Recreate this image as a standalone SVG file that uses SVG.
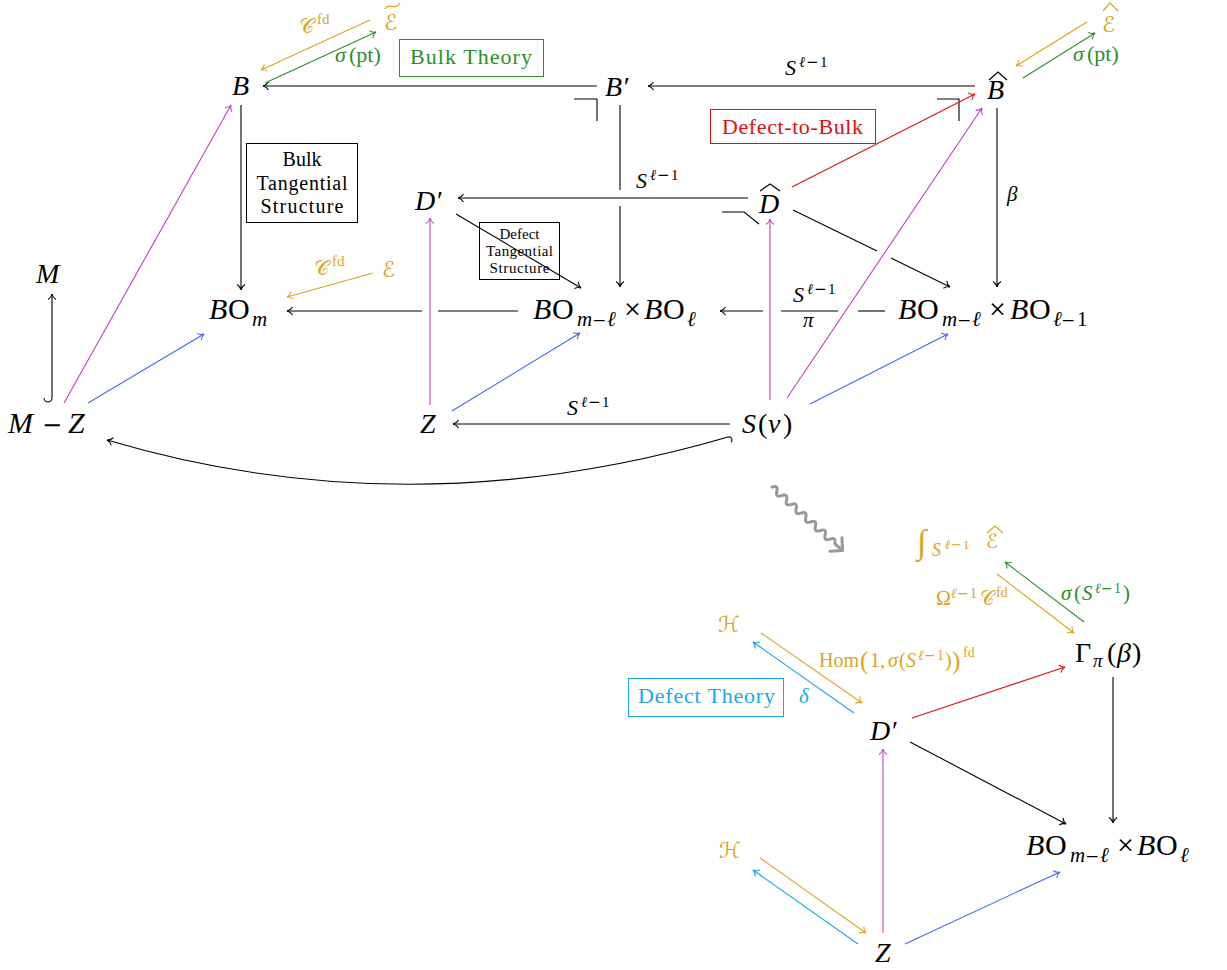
<svg xmlns="http://www.w3.org/2000/svg" width="1227" height="970" viewBox="0 0 1227 970">
<style>
text{font-family:"Liberation Serif","DejaVu Serif",serif;fill:#000}
.n{font-size:28px}
.bo{font-size:30px}
.i{font-style:italic}
.sub{font-size:21px}
.sup{font-size:15px}
.mn{font-family:"DejaVu Serif",serif;font-style:normal}
.sc{font-family:"DejaVu Serif","DejaVu Sans",serif}
.gold{fill:#D9A521}
.green{fill:#2A8F2A}
.red{fill:#E01010}
.cyan{fill:#1AA8E6}
.c .ln{fill:none;stroke-width:1.1}
.k{stroke:#000}
.go{stroke:#D9A521}
.gr{stroke:#2A8F2A}
.rd{stroke:#E01010}
.mg{stroke:#C040C0}
.bl{stroke:#4466F5}
.cy{stroke:#1AA8E6}
.box{fill:none;stroke-width:1}
.acc{fill:none;stroke-width:1.2}
.sq{fill:none;stroke:#999;stroke-width:3;stroke-linecap:round;stroke-linejoin:round}
</style>
<defs>
<marker id="ak" markerUnits="userSpaceOnUse" markerWidth="14" markerHeight="14" viewBox="-7 -7 14 14" refX="0" refY="0" orient="auto"><path d="M-5.5,-4 C-4,-1.5 -1.5,-0.3 0,0 C-1.5,0.3 -4,1.5 -5.5,4" fill="none" stroke="#000" stroke-width="1.1"/></marker>
<marker id="ago" markerUnits="userSpaceOnUse" markerWidth="14" markerHeight="14" viewBox="-7 -7 14 14" refX="0" refY="0" orient="auto"><path d="M-5.5,-4 C-4,-1.5 -1.5,-0.3 0,0 C-1.5,0.3 -4,1.5 -5.5,4" fill="none" stroke="#D9A521" stroke-width="1.1"/></marker>
<marker id="agr" markerUnits="userSpaceOnUse" markerWidth="14" markerHeight="14" viewBox="-7 -7 14 14" refX="0" refY="0" orient="auto"><path d="M-5.5,-4 C-4,-1.5 -1.5,-0.3 0,0 C-1.5,0.3 -4,1.5 -5.5,4" fill="none" stroke="#2A8F2A" stroke-width="1.1"/></marker>
<marker id="ard" markerUnits="userSpaceOnUse" markerWidth="14" markerHeight="14" viewBox="-7 -7 14 14" refX="0" refY="0" orient="auto"><path d="M-5.5,-4 C-4,-1.5 -1.5,-0.3 0,0 C-1.5,0.3 -4,1.5 -5.5,4" fill="none" stroke="#E01010" stroke-width="1.1"/></marker>
<marker id="amg" markerUnits="userSpaceOnUse" markerWidth="14" markerHeight="14" viewBox="-7 -7 14 14" refX="0" refY="0" orient="auto"><path d="M-5.5,-4 C-4,-1.5 -1.5,-0.3 0,0 C-1.5,0.3 -4,1.5 -5.5,4" fill="none" stroke="#C040C0" stroke-width="1.1"/></marker>
<marker id="abl" markerUnits="userSpaceOnUse" markerWidth="14" markerHeight="14" viewBox="-7 -7 14 14" refX="0" refY="0" orient="auto"><path d="M-5.5,-4 C-4,-1.5 -1.5,-0.3 0,0 C-1.5,0.3 -4,1.5 -5.5,4" fill="none" stroke="#4466F5" stroke-width="1.1"/></marker>
<marker id="acy" markerUnits="userSpaceOnUse" markerWidth="14" markerHeight="14" viewBox="-7 -7 14 14" refX="0" refY="0" orient="auto"><path d="M-5.5,-4 C-4,-1.5 -1.5,-0.3 0,0 C-1.5,0.3 -4,1.5 -5.5,4" fill="none" stroke="#1AA8E6" stroke-width="1.1"/></marker>
</defs>

<g id="connectors" class="c">
  <path class="ln k" d="M597,86 H263" marker-end="url(#ak)"/>
  <path class="ln k" d="M975,86 H648" marker-end="url(#ak)"/>
  <path class="ln k" d="M241,105 V290" marker-end="url(#ak)"/>
  <path class="ln k" d="M620,105 V190"/>
  <path class="ln k" d="M620,206 V287" marker-end="url(#ak)"/>
  <path class="ln k" d="M997,108 V287" marker-end="url(#ak)"/>
  <path class="ln k" d="M748,198 H458" marker-end="url(#ak)"/>
  <path class="ln k" d="M793,210 L877,251"/>
  <path class="ln k" d="M891,258 L950,287" marker-end="url(#ak)"/>
  <path class="ln k" d="M456,214 L581,288" marker-end="url(#ak)"/>
  <path class="ln k" d="M518,311 H438"/>
  <path class="ln k" d="M422,311 H287" marker-end="url(#ak)"/>
  <path class="ln k" d="M885,311 H858"/>
  <path class="ln k" d="M781,311 H838"/>
  <path class="ln k" d="M763,311 H720" marker-end="url(#ak)"/>
  <path class="ln k" d="M730,424 H453" marker-end="url(#ak)"/>
  <path class="ln k" d="M44,398 A4,4 0 0 0 52,398 V294" marker-end="url(#ak)"/>
  <path class="ln k" d="M731,442 A3,3 0 0 0 728,437 Q410,530 107,440" marker-end="url(#ak)"/>
  <polyline class="ln k" points="574,99 597,99 597,121"/>
  <polyline class="ln k" points="937,99 959,99 959,121"/>
  <polyline class="ln k" points="722,212 744,212 759,224"/>
  <path class="ln k" d="M910,742 L1066,824" marker-end="url(#ak)"/>
  <path class="ln k" d="M1113,677 V823" marker-end="url(#ak)"/>
  <path class="ln go" d="M370,20 L261,70" marker-end="url(#ago)"/>
  <path class="ln go" d="M1087,22 L1016,66" marker-end="url(#ago)"/>
  <path class="ln go" d="M373,273 L287,297" marker-end="url(#ago)"/>
  <path class="ln go" d="M997,574 L1074,633" marker-end="url(#ago)"/>
  <path class="ln go" d="M761,633 L862,703" marker-end="url(#ago)"/>
  <path class="ln go" d="M760,858 L866,933" marker-end="url(#ago)"/>
  <path class="ln gr" d="M265,83 L376,32" marker-end="url(#agr)"/>
  <path class="ln gr" d="M1023,78 L1095,33" marker-end="url(#agr)"/>
  <path class="ln gr" d="M1084,622 L1005,562" marker-end="url(#agr)"/>
  <path class="ln rd" d="M792,187 L975,94" marker-end="url(#ard)"/>
  <path class="ln rd" d="M912,718 L1065,667" marker-end="url(#ard)"/>
  <path class="ln mg" d="M64,403 L231,105" marker-end="url(#amg)"/>
  <path class="ln mg" d="M430,405 V218" marker-end="url(#amg)"/>
  <path class="ln mg" d="M770,400 V219" marker-end="url(#amg)"/>
  <path class="ln mg" d="M787,398 L982,108" marker-end="url(#amg)"/>
  <path class="ln mg" d="M883,933 V749" marker-end="url(#amg)"/>
  <path class="ln bl" d="M88,403 L204,334" marker-end="url(#abl)"/>
  <path class="ln bl" d="M452,411 L580,333" marker-end="url(#abl)"/>
  <path class="ln bl" d="M810,404 L948,334" marker-end="url(#abl)"/>
  <path class="ln bl" d="M905,944 L1060,872" marker-end="url(#abl)"/>
  <path class="ln cy" d="M854,713 L753,642" marker-end="url(#acy)"/>
  <path class="ln cy" d="M858,944 L753,870" marker-end="url(#acy)"/>
  <g transform="translate(772,487) rotate(42)">
    <path class="sq" d="M0,0 q3.25,-6 6.5,0 t6.5,0 t6.5,0 t6.5,0 t6.5,0 t6.5,0 t6.5,0 t6.5,0 t6.5,0 t6.5,0 t6.5,0 t6.5,0 t6.5,0 l9,0"/>
    <path class="sq" d="M86,-9 L95,0 L86,9"/>
  </g>
</g>

<g id="node-B"><text class="n i" x="232" y="95">B</text></g>
<g id="node-Bprime"><text class="n i" x="605" y="96">B′</text></g>
<g id="node-Bhat"><text class="n i" x="987" y="99">B</text><polyline class="acc" stroke="#000" points="989,80 998,72 1007,80"/></g>
<g id="node-Etilde"><text class="gold sc" x="384" y="30" font-size="22">ℰ</text><path class="acc" stroke="#D9A521" d="M385,9 C389,2 395,11 400,3"/></g>
<g id="node-Ehat"><text class="gold sc" x="1102" y="32" font-size="22">ℰ</text><polyline class="acc" stroke="#D9A521" points="1103,11 1110,3 1118,11"/></g>
<g id="node-Dprime"><text class="n i" x="415" y="210">D′</text></g>
<g id="node-Dhat"><text class="n i" x="759" y="213">D</text><polyline class="acc" stroke="#000" points="760,191 770,184 780,191"/></g>
<g id="node-M"><text class="n i" x="36" y="283" font-size="29">M</text></g>
<g id="node-E"><text class="gold sc" x="382" y="277" font-size="22">ℰ</text></g>
<g id="node-BOm"><text class="bo" y="319"><tspan class="i" x="209">B</tspan><tspan x="228">O</tspan><tspan class="i sub" x="252" dy="7">m</tspan></text></g>
<g id="node-BOxBO"><text class="bo" y="319"><tspan class="i" x="533">B</tspan><tspan x="552">O</tspan><tspan class="i sub" x="577" dy="7">m</tspan><tspan class="mn" x="592" font-size="17">−</tspan><tspan class="i sub" x="607">ℓ</tspan><tspan x="624" dy="-7">×</tspan><tspan class="i" x="644">B</tspan><tspan x="663">O</tspan><tspan class="i sub" x="687" dy="7">ℓ</tspan></text></g>
<g id="node-BOxBO1"><text class="bo" y="319"><tspan class="i" x="898">B</tspan><tspan x="917">O</tspan><tspan class="i sub" x="942" dy="7">m</tspan><tspan class="mn" x="957" font-size="17">−</tspan><tspan class="i sub" x="972">ℓ</tspan><tspan x="989" dy="-7">×</tspan><tspan class="i" x="1010">B</tspan><tspan x="1029">O</tspan><tspan class="i sub" x="1053" dy="7">ℓ</tspan><tspan class="mn" x="1061" font-size="17">−</tspan><tspan class="sub" x="1077">1</tspan></text></g>
<g id="node-MZ"><text class="n" y="433"><tspan class="i" x="8" font-size="30">M</tspan><tspan class="mn" x="42" font-size="24">−</tspan><tspan class="i" x="68" font-size="30">Z</tspan></text></g>
<g id="node-Z"><text class="n i" x="420" y="433">Z</text></g>
<g id="node-Snu"><text class="n" y="433"><tspan class="i" x="742">S</tspan><tspan x="758">(</tspan><tspan class="i" x="768">ν</tspan><tspan x="783">)</tspan></text></g>

<g id="box-bulk-theory"><rect class="box" stroke="#2A8F2A" x="399.5" y="39.5" width="144" height="37"/><text class="green" x="410" y="64" font-size="22" textLength="122" lengthAdjust="spacing">Bulk Theory</text></g>
<g id="box-defect-to-bulk"><rect class="box" stroke="#E01010" x="710.5" y="109.5" width="165" height="34"/><text class="red" x="722" y="134" font-size="22" textLength="141" lengthAdjust="spacing">Defect-to-Bulk</text></g>
<g id="box-bulk-tangential"><rect class="box" stroke="#000" x="246.5" y="143.5" width="111" height="79"/>
<text x="302" y="166" font-size="20" text-anchor="middle">Bulk</text>
<text x="302" y="190" font-size="20" text-anchor="middle" textLength="91" lengthAdjust="spacing">Tangential</text>
<text x="302" y="213" font-size="20" text-anchor="middle" textLength="83" lengthAdjust="spacing">Structure</text></g>
<g id="box-defect-tangential"><rect class="box" stroke="#000" x="479.5" y="222.5" width="80" height="57"/>
<text x="519.5" y="239" font-size="15" text-anchor="middle">Defect</text>
<text x="519.5" y="256" font-size="15" text-anchor="middle" textLength="67" lengthAdjust="spacing">Tangential</text>
<text x="519.5" y="273" font-size="15" text-anchor="middle" textLength="60" lengthAdjust="spacing">Structure</text></g>

<g id="labels">
<text class="gold" y="33" font-size="21"><tspan class="sc" x="299">𝒞</tspan><tspan font-size="15" x="317" dy="-9">fd</tspan></text>
<text class="green" y="62" font-size="22"><tspan class="i" x="335">σ</tspan><tspan x="349">(pt)</tspan></text>
<text class="green" y="61" font-size="22"><tspan class="i" x="1073">σ</tspan><tspan x="1087">(pt)</tspan></text>
<text y="75" font-size="22"><tspan class="i" x="785">S</tspan><tspan class="i sup" x="799" dy="-8">ℓ</tspan><tspan class="mn sup" x="806">−</tspan><tspan class="sup" x="820">1</tspan></text>
<text y="188" font-size="22"><tspan class="i" x="636">S</tspan><tspan class="i sup" x="650" dy="-8">ℓ</tspan><tspan class="mn sup" x="657">−</tspan><tspan class="sup" x="671">1</tspan></text>
<text y="302" font-size="22"><tspan class="i" x="793">S</tspan><tspan class="i sup" x="807" dy="-8">ℓ</tspan><tspan class="mn sup" x="814">−</tspan><tspan class="sup" x="828">1</tspan></text>
<text y="415" font-size="22"><tspan class="i" x="567">S</tspan><tspan class="i sup" x="581" dy="-8">ℓ</tspan><tspan class="mn sup" x="588">−</tspan><tspan class="sup" x="602">1</tspan></text>
<text class="i" x="803" y="327" font-size="21">π</text>
<text class="i" x="1007" y="201" font-size="21">β</text>
<text class="gold" y="275" font-size="21"><tspan class="sc" x="314">𝒞</tspan><tspan font-size="15" x="332" dy="-9">fd</tspan></text>
</g>

<g id="node-intE"><text class="gold" x="917" y="553" font-size="34">∫</text><text class="gold" y="556" font-size="18"><tspan class="i" x="932">S</tspan><tspan class="i" font-size="13" x="945" dy="-7">ℓ</tspan><tspan class="mn" font-size="13" x="951">−</tspan><tspan font-size="13" x="963">1</tspan></text><text class="gold sc" x="986" y="548" font-size="20">ℰ</text><polyline class="acc" stroke="#D9A521" points="987,533 995,526 1003,533"/></g>
<g id="node-Gamma"><text class="n" y="662"><tspan x="1075">Γ</tspan><tspan class="i" font-size="19" x="1093" dy="5">π</tspan><tspan x="1107" dy="-5">(</tspan><tspan class="i" x="1117">β</tspan><tspan x="1132">)</tspan></text></g>
<g id="node-H1"><text class="gold sc" x="718" y="632" font-size="22">ℋ</text></g>
<g id="node-Dprime2"><text class="n i" x="870" y="740">D′</text></g>
<g id="node-BOxBO2"><text class="bo" y="855"><tspan class="i" x="1026">B</tspan><tspan x="1045">O</tspan><tspan class="i sub" x="1070" dy="7">m</tspan><tspan class="mn" x="1085" font-size="17">−</tspan><tspan class="i sub" x="1100">ℓ</tspan><tspan x="1117" dy="-7">×</tspan><tspan class="i" x="1137">B</tspan><tspan x="1156">O</tspan><tspan class="i sub" x="1180" dy="7">ℓ</tspan></text></g>
<g id="node-H2"><text class="gold sc" x="719" y="858" font-size="22">ℋ</text></g>
<g id="node-Z2"><text class="n i" x="875" y="962">Z</text></g>
<g id="box-defect-theory"><rect class="box" stroke="#1AA8E6" x="628.5" y="678.5" width="155" height="38"/><text class="cyan" x="638" y="703" font-size="22" textLength="137" lengthAdjust="spacing">Defect Theory</text></g>
<g id="labels-bottom">
<text class="green" y="600" font-size="21"><tspan class="i" x="1061">σ</tspan><tspan x="1074">(</tspan><tspan class="i" x="1082">S</tspan><tspan class="i" font-size="14" x="1095" dy="-7">ℓ</tspan><tspan class="mn" font-size="14" x="1101">−</tspan><tspan font-size="14" x="1114">1</tspan><tspan x="1123" dy="7">)</tspan></text>
<text class="gold" y="605" font-size="20"><tspan x="936">Ω</tspan><tspan class="i" font-size="14" x="951" dy="-7">ℓ</tspan><tspan class="mn" font-size="14" x="957">−</tspan><tspan font-size="14" x="970">1</tspan><tspan class="sc" x="980" dy="7">𝒞</tspan><tspan font-size="14" x="996" dy="-8">fd</tspan></text>
<text class="gold" y="667" font-size="20"><tspan x="819">Hom</tspan><tspan x="860" font-size="25" dy="2">(</tspan><tspan x="870" dy="-2">1,</tspan><tspan class="i" x="888">σ</tspan><tspan x="899">(</tspan><tspan class="i" x="906">S</tspan><tspan class="i" font-size="14" x="918" dy="-7">ℓ</tspan><tspan class="mn" font-size="14" x="924">−</tspan><tspan font-size="14" x="937">1</tspan><tspan x="945" dy="7">)</tspan><tspan x="952" font-size="25" dy="2">)</tspan><tspan font-size="14" x="963" dy="-12">fd</tspan></text>
<text class="cyan i" x="799" y="703" font-size="21">δ</text>
</g>
</svg>
